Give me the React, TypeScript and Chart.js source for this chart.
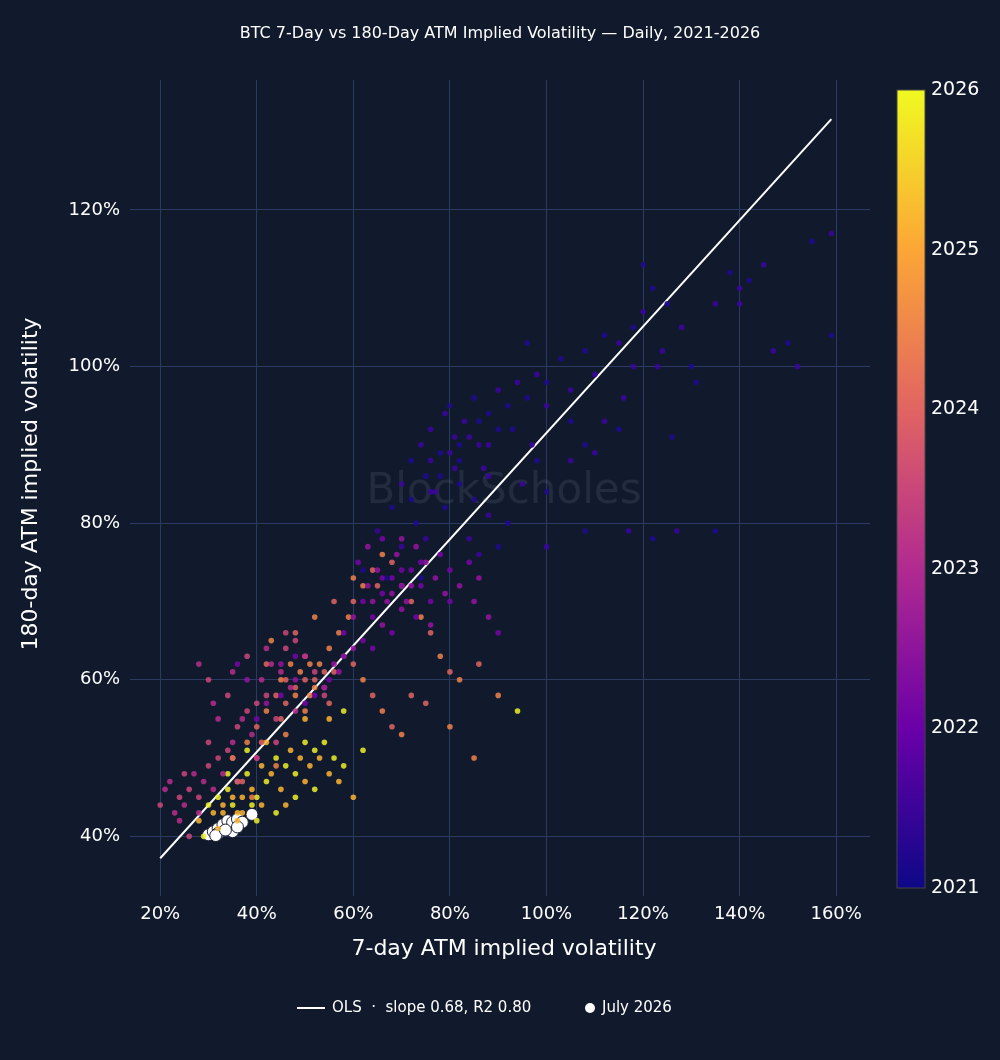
import { useEffect, useRef } from 'react'
import Chart from 'chart.js/auto'

// [7-day IV %, 180-day IV %], grouped by year
const pts2021 = [[62,74],[65,79],[68,82],[70,85],[72,88],[74,90],[75,86],[76,92],[78,89],[79,94],[80,95],[81,91],[82,88],[83,93],[85,96],[86,90],[88,94],[90,97],[92,95],[94,98],[96,96],[98,99],[100,98],[100,95],[103,101],[105,97],[108,102],[110,99],[112,104],[115,103],[118,105],[120,107],[122,110],[124,102],[125,108],[128,105],[130,100],[135,108],[138,112],[140,110],[142,111],[145,113],[150,103],[152,100],[155,116],[159,117],[159,104],[147,102],[120,113],[118,100],[115,92],[112,93],[108,90],[105,88],[100,84],[95,85],[92,80],[88,81],[85,83],[84,78],[90,77],[100,77],[108,79],[117,79],[122,78],[127,79],[135,79],[110,89],[105,93],[97,90],[93,92],[87,87],[82,85],[77,84],[73,80],[70,77],[67,73],[75,78],[79,82],[88,86],[96,103],[123,100],[131,98],[140,108],[74,73],[86,76],[98,88],[116,96],[126,91],[76,88],[78,86],[80,89],[82,90],[84,91],[86,93],[88,90],[90,92],[76,84],[72,83],[81,87]]
const pts2022 = [[58,66],[60,68],[62,70],[63,72],[64,68],[65,74],[66,71],[67,70],[68,73],[69,76],[70,72],[71,70],[72,74],[73,77],[74,72],[75,75],[76,70],[77,73],[78,76],[79,71],[80,74],[82,72],[84,75],[86,73],[62,65],[60,64],[58,63],[56,62],[55,60],[57,61],[64,64],[66,67],[68,66],[70,69],[73,68],[76,67],[80,70],[88,68],[90,66],[85,70],[61,75],[63,77],[66,78],[70,78],[52,58],[54,59],[50,57],[48,60],[45,58],[42,57],[40,55],[45,62],[48,63],[38,60],[36,62],[64,70],[66,73],[68,71],[70,74],[72,72],[74,75]]
const pts2023 = [[22,47],[24,45],[25,44],[26,46],[27,48],[28,45],[29,47],[30,49],[31,46],[32,50],[33,48],[34,51],[35,52],[36,54],[37,55],[38,56],[39,53],[40,57],[41,60],[42,58],[43,62],[44,55],[45,61],[46,64],[47,59],[48,65],[50,63],[52,61],[24,42],[26,40],[28,43],[30,52],[32,55],[34,58],[28,62],[30,60],[35,61],[38,63],[42,64],[46,66],[23,43],[25,48],[21,46],[20,44],[31,57],[36,47],[40,50],[44,52],[48,56],[54,58]]
const pts2024 = [[35,50],[38,52],[40,54],[42,56],[44,58],[45,60],[46,57],[47,62],[48,59],[49,61],[50,63],[51,58],[52,60],[53,62],[54,59],[55,64],[56,61],[57,66],[58,63],[59,68],[60,70],[62,72],[64,74],[66,76],[68,75],[70,72],[72,70],[74,68],[76,66],[78,63],[80,61],[82,60],[86,62],[90,58],[60,62],[62,60],[64,58],[66,56],[68,54],[70,53],[45,55],[50,56],[55,57],[40,50],[42,62],[43,65],[48,66],[52,68],[56,70],[60,73],[65,72],[44,49],[37,47],[39,45],[41,52],[46,53],[75,57],[85,50],[72,58],[80,54],[50,60],[52,59],[54,61],[48,58],[46,60],[51,62]]
const pts2025 = [[28,42],[30,44],[31,43],[32,45],[33,44],[34,46],[35,45],[36,47],[37,43],[38,48],[39,46],[40,45],[41,49],[42,47],[43,48],[44,50],[45,46],[46,49],[47,51],[48,48],[49,50],[50,52],[51,49],[52,51],[53,50],[54,52],[55,48],[56,50],[57,47],[58,49],[60,45],[62,51],[46,44],[48,45],[50,47],[52,46],[35,50],[38,51],[42,52],[44,43],[41,44],[29,40],[32,41],[94,56],[55,55],[58,56],[50,55],[40,42],[36,42],[34,48],[33,43],[35,44],[37,45],[39,44],[36,43]]
const ptsJuly2026 = [[30,40.2],[31,40.6],[32,41],[32,40.4],[33,41.5],[34,41],[34,42],[35,40.6],[35,41.8],[36,42.2],[37,41.8],[39,42.8],[31.5,40.1],[33.5,40.8],[36,41.2]]
const olsLine = [[20, 37.2], [159, 131.6]]
const xTicks = [20, 40, 60, 80, 100, 120, 140, 160]
const yTicks = [40, 60, 80, 100, 120]
const barYears = [2021, 2022, 2023, 2024, 2025, 2026]

const plasma = ['#0d0887', '#6a00a8', '#b12a90', '#e16462', '#fca636', '#f0f921']
const toXY = (a) => a.map(([x, y]) => ({ x, y }))

const App = () => {
  const canvasRef = useRef(null)
  const chartRef = useRef(null)

  useEffect(() => {
    document.body.style.margin = '0'
    const ctx = canvasRef.current.getContext('2d')
    if (chartRef.current) chartRef.current.destroy()

    const decor = {
      id: 'decor',
      beforeDatasetsDraw(chart) {
        const c = chart.ctx
        const a = chart.chartArea
        c.save()
        c.font = '42px "DejaVu Sans"'
        c.fillStyle = 'rgba(120,130,150,0.18)'
        c.textAlign = 'center'
        c.textBaseline = 'middle'
        c.fillText('BlockScholes', (a.left + a.right) / 2, 492)
        c.restore()
      },
      afterDraw(chart) {
        const c = chart.ctx
        c.save()
        c.fillStyle = '#ffffff'
        c.textAlign = 'center'
        c.textBaseline = 'middle'
        c.font = '16px "DejaVu Sans"'
        c.fillText('BTC 7-Day vs 180-Day ATM Implied Volatility — Daily, 2021-2026', 500, 34)
        // colour bar
        const top = 90, bot = 888, bx = 897, bw = 28
        const g = c.createLinearGradient(0, bot, 0, top)
        plasma.forEach((col, i) => g.addColorStop(i / (plasma.length - 1), col))
        c.fillStyle = g
        c.fillRect(bx, top, bw, bot - top)
        c.strokeStyle = '#444'
        c.strokeRect(bx, top, bw, bot - top)
        c.fillStyle = '#ffffff'
        c.textAlign = 'left'
        c.font = '19px "DejaVu Sans"'
        barYears.forEach((yr, i) => {
          const y = bot - (i / (barYears.length - 1)) * (bot - top)
          c.fillText(String(yr), 931, y)
        })
        // legend
        c.font = '15px "DejaVu Sans"'
        c.strokeStyle = '#ffffff'
        c.lineWidth = 2
        c.beginPath()
        c.moveTo(297, 1008)
        c.lineTo(325, 1008)
        c.stroke()
        c.fillText('OLS  ·  slope 0.68, R2 0.80', 332, 1008)
        c.beginPath()
        c.arc(590, 1008, 5, 0, Math.PI * 2)
        c.fill()
        c.fillText('July 2026', 602, 1008)
        c.restore()
      }
    }

    const yearSet = (data, color, alt) => ({
      type: 'scatter',
      data: toXY(data),
      backgroundColor: (cx) => (alt && cx.dataIndex % 2 ? alt : color),
      borderWidth: 0,
      pointRadius: 2.8
    })

    chartRef.current = new Chart(ctx, {
      type: 'scatter',
      data: {
        datasets: [
          yearSet(pts2021, 'rgba(30,10,145,0.85)', 'rgba(60,5,160,0.85)'),
          yearSet(pts2022, 'rgba(120,5,168,0.85)', 'rgba(150,20,160,0.85)'),
          yearSet(pts2023, 'rgba(185,45,140,0.85)', 'rgba(205,70,125,0.85)'),
          yearSet(pts2024, 'rgba(225,100,98,0.85)', 'rgba(240,130,75,0.85)'),
          yearSet(pts2025, 'rgba(252,180,50,0.85)', 'rgba(236,240,40,0.85)'),
          {
            type: 'line',
            data: toXY(olsLine),
            borderColor: '#ffffff',
            borderWidth: 2,
            pointRadius: 0
          },
          {
            type: 'scatter',
            data: toXY(ptsJuly2026),
            backgroundColor: '#ffffff',
            borderColor: '#1a2035',
            borderWidth: 1,
            pointRadius: 6
          }
        ]
      },
      options: {
        animation: false,
        responsive: false,
        layout: { padding: { top: 80, right: 130, bottom: 94, left: 14 } },
        plugins: { legend: { display: false }, tooltip: { enabled: false } },
        scales: {
          x: {
            type: 'linear',
            min: 15.4,
            max: 167,
            afterBuildTicks: (s) => { s.ticks = xTicks.map((v) => ({ value: v })) },
            afterFit: (s) => { s.height = 78 },
            grid: { color: '#2a3a63' },
            border: { display: false },
            ticks: { color: '#ffffff', font: { size: 18, family: 'DejaVu Sans' }, callback: (v) => v + '%', padding: 8 },
            title: { display: true, text: '7-day ATM implied volatility', color: '#ffffff', font: { size: 22, family: 'DejaVu Sans' }, padding: { top: 2 } }
          },
          y: {
            type: 'linear',
            min: 33.4,
            max: 136.6,
            afterBuildTicks: (s) => { s.ticks = yTicks.map((v) => ({ value: v })) },
            afterFit: (s) => { s.width = 124 },
            grid: { color: '#2a3a63' },
            border: { display: false },
            ticks: { color: '#ffffff', font: { size: 18, family: 'DejaVu Sans' }, callback: (v) => v + '%', padding: 10 },
            title: { display: true, text: '180-day ATM implied volatility', color: '#ffffff', font: { size: 22, family: 'DejaVu Sans' } }
          }
        }
      },
      plugins: [decor]
    })

    return () => {
      if (chartRef.current) chartRef.current.destroy()
    }
  }, [])

  return (
    <div style={{ width: 1000, height: 1060, background: '#111a2d' }}>
      <canvas ref={canvasRef} width={1000} height={1060} />
    </div>
  )
}

export default App
